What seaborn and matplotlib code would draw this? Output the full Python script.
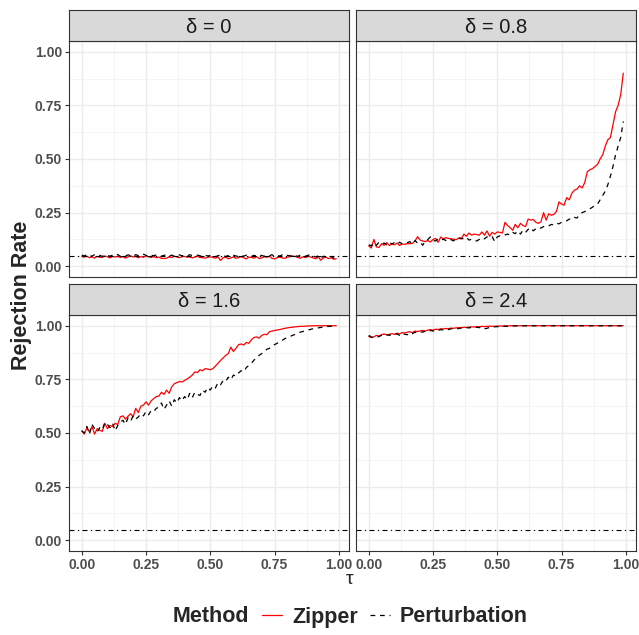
import numpy as np
import pandas as pd
import matplotlib
matplotlib.use("Agg")
import matplotlib.pyplot as plt
import seaborn as sns
from matplotlib.lines import Line2D
from matplotlib.ticker import MultipleLocator

# ---------------- DATA ----------------
tau = [round(i * 0.01, 2) for i in range(100)]
deltas = ["0", "0.8", "1.6", "2.4"]
methods = ["Zipper", "Perturbation"]

zipper_d0 = [
    0.045, 0.043, 0.047, 0.040, 0.044, 0.038, 0.046, 0.042, 0.041, 0.048,
    0.044, 0.039, 0.046, 0.043, 0.047, 0.041, 0.045, 0.038, 0.044, 0.049,
    0.043, 0.046, 0.040, 0.045, 0.042, 0.048, 0.044, 0.041, 0.046, 0.040,
    0.043, 0.037, 0.036, 0.038, 0.044, 0.041, 0.047, 0.043, 0.040, 0.045,
    0.046, 0.042, 0.044, 0.039, 0.043, 0.046, 0.041, 0.040, 0.038, 0.042,
    0.044, 0.041, 0.038, 0.043, 0.027, 0.040, 0.042, 0.035, 0.039, 0.044,
    0.037, 0.041, 0.045, 0.040, 0.034, 0.043, 0.041, 0.038, 0.045, 0.036,
    0.039, 0.044, 0.042, 0.047, 0.037, 0.034, 0.040, 0.043, 0.039, 0.037,
    0.042, 0.045, 0.048, 0.046, 0.041, 0.038, 0.044, 0.040, 0.047, 0.043,
    0.039, 0.035, 0.044, 0.028, 0.040, 0.042, 0.036, 0.039, 0.033, 0.035,
]
perturb_d0 = [
    0.052, 0.048, 0.055, 0.050, 0.047, 0.054, 0.049, 0.051, 0.046, 0.053,
    0.050, 0.047, 0.052, 0.049, 0.055, 0.046, 0.051, 0.048, 0.053, 0.050,
    0.047, 0.054, 0.050, 0.048, 0.056, 0.051, 0.046, 0.052, 0.049, 0.053,
    0.050, 0.047, 0.051, 0.054, 0.048, 0.052, 0.046, 0.050, 0.053, 0.049,
    0.051, 0.047, 0.054, 0.050, 0.048, 0.052, 0.049, 0.046, 0.051, 0.048,
    0.050, 0.047, 0.045, 0.049, 0.052, 0.048, 0.046, 0.050, 0.047, 0.051,
    0.048, 0.045, 0.050, 0.047, 0.052, 0.049, 0.046, 0.051, 0.048, 0.053,
    0.050, 0.047, 0.052, 0.049, 0.054, 0.046, 0.050, 0.048, 0.053, 0.047,
    0.051, 0.048, 0.054, 0.050, 0.046, 0.052, 0.049, 0.047, 0.051, 0.055,
    0.048, 0.043, 0.050, 0.039, 0.047, 0.044, 0.041, 0.046, 0.038, 0.034,
]
zipper_d08 = [
    0.095, 0.085, 0.125, 0.090, 0.088, 0.105, 0.098, 0.110, 0.097, 0.104,
    0.100, 0.108, 0.097, 0.104, 0.102, 0.106, 0.105, 0.107, 0.118, 0.138,
    0.122, 0.118, 0.115, 0.120, 0.113, 0.125, 0.130, 0.112, 0.136, 0.128,
    0.133, 0.130, 0.128, 0.126, 0.124, 0.131, 0.127, 0.150, 0.140, 0.155,
    0.145, 0.150, 0.148, 0.145, 0.160, 0.145, 0.165, 0.140, 0.158, 0.150,
    0.160, 0.158, 0.155, 0.205, 0.190, 0.180, 0.168, 0.195, 0.180, 0.200,
    0.190, 0.185, 0.220, 0.215, 0.218, 0.205, 0.200, 0.208, 0.250, 0.215,
    0.245, 0.238, 0.242, 0.255, 0.300, 0.290, 0.285, 0.320, 0.310, 0.340,
    0.355, 0.360, 0.375, 0.365, 0.390, 0.440, 0.450, 0.455, 0.465, 0.475,
    0.500, 0.520, 0.560, 0.590, 0.600, 0.660, 0.720, 0.750, 0.800, 0.900,
]
perturb_d08 = [
    0.100, 0.095, 0.110, 0.098, 0.112, 0.103, 0.108, 0.100, 0.112, 0.104,
    0.110, 0.102, 0.112, 0.105, 0.108, 0.110, 0.115, 0.104, 0.120, 0.108,
    0.112, 0.098, 0.118, 0.125, 0.137, 0.120, 0.118, 0.128, 0.122, 0.126,
    0.120, 0.128, 0.124, 0.118, 0.126, 0.133, 0.130, 0.128, 0.135, 0.122,
    0.126, 0.120, 0.118, 0.125, 0.134, 0.128, 0.137, 0.132, 0.138, 0.115,
    0.137, 0.142, 0.140, 0.146, 0.150, 0.145, 0.158, 0.152, 0.165, 0.150,
    0.168, 0.158, 0.172, 0.180, 0.165, 0.175, 0.182, 0.178, 0.185, 0.190,
    0.188, 0.195, 0.192, 0.200, 0.198, 0.205, 0.207, 0.212, 0.220, 0.218,
    0.228, 0.225, 0.240, 0.250, 0.255, 0.260, 0.268, 0.275, 0.285, 0.290,
    0.310, 0.330, 0.350, 0.380, 0.420, 0.465, 0.520, 0.560, 0.600, 0.675,
]
zipper_d16 = [
    0.510, 0.495, 0.525, 0.505, 0.530, 0.495, 0.520, 0.512, 0.508, 0.545,
    0.520, 0.535, 0.530, 0.545, 0.540, 0.575, 0.580, 0.565, 0.578, 0.590,
    0.575, 0.615, 0.595, 0.625, 0.630, 0.645, 0.630, 0.650, 0.660, 0.670,
    0.672, 0.690, 0.680, 0.700, 0.685, 0.715, 0.730, 0.735, 0.740, 0.738,
    0.745, 0.752, 0.760, 0.770, 0.785, 0.782, 0.795, 0.790, 0.800, 0.798,
    0.795, 0.800, 0.812, 0.825, 0.838, 0.850, 0.862, 0.870, 0.900, 0.880,
    0.895, 0.912, 0.915, 0.910, 0.922, 0.918, 0.935, 0.945, 0.948, 0.942,
    0.955, 0.960, 0.958, 0.972, 0.975, 0.978, 0.980, 0.982, 0.985, 0.988,
    0.990, 0.992, 0.993, 0.995, 0.996, 0.997, 0.997, 0.998, 0.999, 0.999,
    1.000, 1.000, 1.000, 1.000, 1.000, 1.000, 1.000, 1.000, 1.000, 1.000,
]
perturb_d16 = [
    0.510, 0.500, 0.530, 0.495, 0.540, 0.520, 0.505, 0.525, 0.515, 0.550,
    0.540, 0.525, 0.545, 0.510, 0.535, 0.550, 0.560, 0.540, 0.570, 0.555,
    0.580, 0.565, 0.575, 0.590, 0.580, 0.600, 0.585, 0.605, 0.600, 0.615,
    0.620, 0.640, 0.610, 0.630, 0.650, 0.625, 0.655, 0.640, 0.665, 0.650,
    0.670, 0.655, 0.685, 0.665, 0.690, 0.680, 0.675, 0.700, 0.690, 0.712,
    0.700, 0.720, 0.710, 0.735, 0.725, 0.745, 0.740, 0.760, 0.748, 0.770,
    0.765, 0.780, 0.790, 0.785, 0.805, 0.815, 0.825, 0.840, 0.850, 0.862,
    0.870, 0.880, 0.890, 0.895, 0.905, 0.912, 0.918, 0.925, 0.932, 0.940,
    0.945, 0.950, 0.955, 0.960, 0.965, 0.970, 0.973, 0.977, 0.980, 0.983,
    0.986, 0.988, 0.990, 0.992, 0.994, 0.996, 0.997, 0.998, 0.999, 1.000,
]
zipper_d24 = [
    0.950, 0.945, 0.948, 0.955, 0.952, 0.958, 0.962, 0.957, 0.960, 0.963,
    0.960, 0.965, 0.962, 0.968, 0.966, 0.970, 0.972, 0.968, 0.975, 0.973,
    0.976, 0.978, 0.975, 0.980, 0.982, 0.979, 0.984, 0.982, 0.986, 0.985,
    0.987, 0.986, 0.989, 0.988, 0.990, 0.991, 0.990, 0.993, 0.992, 0.994,
    0.995, 0.994, 0.996, 0.995, 0.997, 0.996, 0.997, 0.998, 0.997, 0.998,
    0.998, 0.999, 0.998, 0.999, 0.999, 1.000, 1.000, 1.000, 1.000, 1.000,
    1.000, 1.000, 1.000, 1.000, 1.000, 1.000, 1.000, 1.000, 1.000, 1.000,
    1.000, 1.000, 1.000, 1.000, 1.000, 1.000, 1.000, 1.000, 1.000, 1.000,
    1.000, 1.000, 1.000, 1.000, 1.000, 1.000, 1.000, 1.000, 1.000, 1.000,
    1.000, 1.000, 1.000, 1.000, 1.000, 1.000, 1.000, 1.000, 1.000, 1.000,
]
perturb_d24 = [
    0.955, 0.948, 0.943, 0.945, 0.950, 0.955, 0.953, 0.958, 0.955, 0.960,
    0.958, 0.962, 0.955, 0.965, 0.960, 0.958, 0.968, 0.963, 0.970, 0.966,
    0.972, 0.970, 0.975, 0.972, 0.978, 0.975, 0.980, 0.978, 0.982, 0.980,
    0.984, 0.982, 0.986, 0.985, 0.988, 0.986, 0.990, 0.988, 0.991, 0.990,
    0.992, 0.990, 0.993, 0.991, 0.994, 0.986, 0.988, 0.992, 0.994, 0.995,
    0.996, 0.995, 0.997, 0.998, 0.997, 0.998, 0.999, 0.999, 1.000, 1.000,
    1.000, 1.000, 1.000, 1.000, 1.000, 1.000, 1.000, 1.000, 1.000, 1.000,
    1.000, 1.000, 1.000, 1.000, 1.000, 1.000, 1.000, 1.000, 1.000, 1.000,
    1.000, 1.000, 1.000, 1.000, 1.000, 1.000, 1.000, 1.000, 1.000, 1.000,
    1.000, 1.000, 1.000, 1.000, 1.000, 1.000, 1.000, 1.000, 1.000, 1.000,
]
alpha_level = 0.05
tick_labels = ["0.00", "0.25", "0.50", "0.75", "1.00"]

series = {
    ("0", "Zipper"): zipper_d0, ("0", "Perturbation"): perturb_d0,
    ("0.8", "Zipper"): zipper_d08, ("0.8", "Perturbation"): perturb_d08,
    ("1.6", "Zipper"): zipper_d16, ("1.6", "Perturbation"): perturb_d16,
    ("2.4", "Zipper"): zipper_d24, ("2.4", "Perturbation"): perturb_d24,
}
rows = []
for (d, m), vals in series.items():
    for t, v in zip(tau, vals):
        rows.append({"tau": t, "rate": v, "Method": m, "delta": d})
df = pd.DataFrame(rows)

# ---------------- STYLE ----------------
sns.set_theme(style="white")
plt.rcParams["font.family"] = ["Liberation Sans", "DejaVu Sans"]

W, H = 639, 635
fig = plt.figure(figsize=(W / 100, H / 100), dpi=100)

palette = {"Zipper": "#FF0000", "Perturbation": "black"}
dashes = {"Zipper": "", "Perturbation": (3.8, 3.8)}

# panel boxes in pixels
panel_x = [69, 356]
panel_w = 280
plot_top = [41, 315]
plot_h = 236
strip_h = 31

for i, d in enumerate(deltas):
    r, c = divmod(i, 2)
    x0 = panel_x[c]
    y0 = plot_top[r]
    ax = fig.add_axes([x0 / W, 1 - (y0 + plot_h) / H, panel_w / W, plot_h / H])
    sub = df[df["delta"] == d]
    sns.lineplot(data=sub, x="tau", y="rate", hue="Method", style="Method",
                 hue_order=methods, style_order=methods,
                 palette=palette, dashes=dashes, linewidth=0.9,
                 errorbar=None, legend=False, ax=ax)
    ax.axhline(alpha_level, color="black", lw=0.8,
               linestyle=(0, (4.5, 3, 1.2, 3)))
    ax.set_xlim(-0.0495, 1.0395)
    ax.set_ylim(-0.05, 1.05)
    ax.xaxis.set_major_locator(MultipleLocator(0.25))
    ax.yaxis.set_major_locator(MultipleLocator(0.25))
    ax.xaxis.set_minor_locator(MultipleLocator(0.125))
    ax.yaxis.set_minor_locator(MultipleLocator(0.125))
    ax.grid(which="major", color="#EBEBEB", lw=1.0)
    ax.grid(which="minor", color="#F2F2F2", lw=0.6)
    ax.set_axisbelow(True)
    for sp in ax.spines.values():
        sp.set_color("#333333")
        sp.set_linewidth(0.8)
    ax.set_xlabel("")
    ax.set_ylabel("")
    ax.tick_params(which="minor", length=0)
    ax.tick_params(which="major", length=3, width=0.8, color="#333333",
                   labelcolor="#4D4D4D", labelsize=10, pad=2,
                   left=(c == 0), bottom=(r == 1),
                   labelleft=(c == 0), labelbottom=(r == 1))
    if c == 0:
        ax.set_yticks([0, 0.25, 0.5, 0.75, 1.0], tick_labels)
        for lab in ax.get_yticklabels():
            lab.set_fontweight("bold")
    if r == 1:
        ax.set_xticks([0, 0.25, 0.5, 0.75, 1.0], tick_labels)
        for lab in ax.get_xticklabels():
            lab.set_fontweight("bold")

    # strip on top
    sax = fig.add_axes([x0 / W, 1 - y0 / H, panel_w / W, strip_h / H])
    sax.set_facecolor("#D9D9D9")
    sax.set_xticks([])
    sax.set_yticks([])
    for sp in sax.spines.values():
        sp.set_color("#333333")
        sp.set_linewidth(0.8)
    sax.text(0.5, 0.45, f"δ = {d}", ha="center", va="center",
             fontsize=14.5, color="#1A1A1A", transform=sax.transAxes)

fig.text(22 / W, 1 - 295 / H, "Rejection Rate", rotation=90, ha="center",
         va="center", fontsize=15.5, fontweight="bold")
fig.text(350 / W, 1 - 579 / H, "τ", ha="center", va="center", fontsize=14)

# legend at the bottom
fig.text(173 / W, 1 - 617 / H, "Method", ha="left", va="center",
         fontsize=15.5, fontweight="bold")
handles = [Line2D([], [], color="#FF0000", lw=0.9),
           Line2D([], [], color="black", lw=0.9, dashes=(3.8, 3.8))]
leg = fig.legend(handles, methods, loc="center left",
                 bbox_to_anchor=(262 / W, 1 - 617 / H), ncol=2,
                 frameon=False, borderpad=0, borderaxespad=0,
                 handlelength=0.95, handletextpad=0.45, columnspacing=0.55,
                 prop={"size": 15.5, "weight": "bold"})

fig.savefig("out.png", dpi=100)
